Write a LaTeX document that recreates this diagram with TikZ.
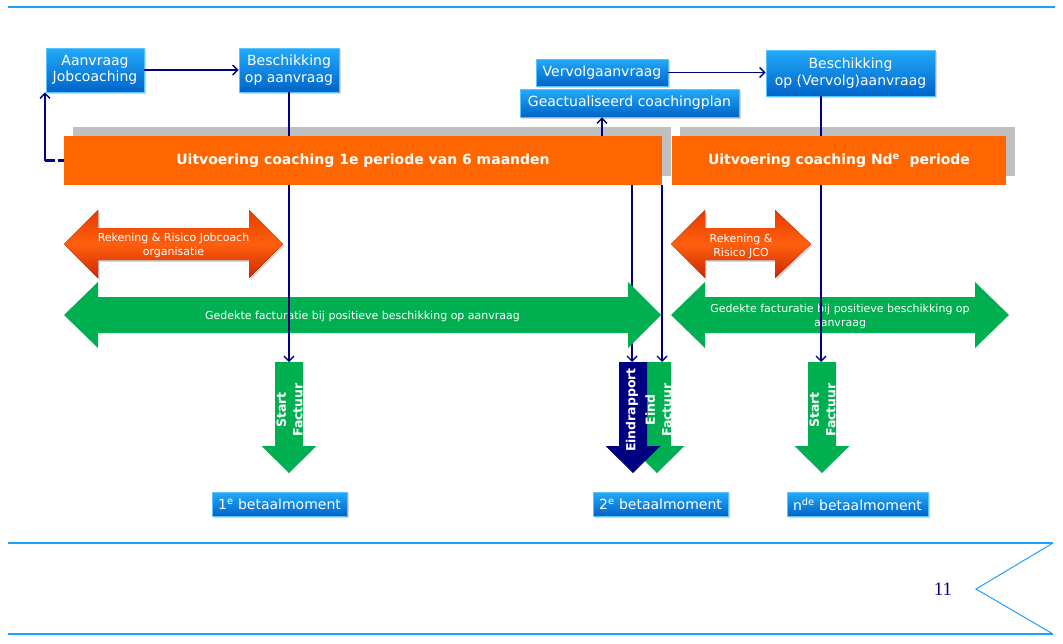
\documentclass[tikz,border=0pt]{standalone}
\usepackage{fontspec}
\setmainfont{DejaVu Sans}
\newfontfamily\numfont{Liberation Serif}
\usetikzlibrary{arrows.meta,shadows,calc}
\definecolor{navy}{RGB}{0,0,128}
\definecolor{lineblue}{RGB}{30,160,255}
\definecolor{orng}{RGB}{255,102,0}
\definecolor{greyshadow}{RGB}{191,191,191}
\definecolor{grn}{RGB}{0,176,80}
\definecolor{btop}{RGB}{35,170,250}
\definecolor{bbot}{RGB}{0,100,200}
\definecolor{bedge}{RGB}{90,195,255}
\definecolor{rtop}{RGB}{230,60,0}
\definecolor{rmid}{RGB}{255,95,15}
\definecolor{rbot}{RGB}{205,40,0}
\newcommand{\dnarrow}[2]{\fill[#2] (#1-14,362) -- (#1+14,362) -- (#1+14,446) -- (#1+27.5,446) -- (#1,473) -- (#1-27.5,446) -- (#1-14,446) -- cycle;}
\begin{document}
\begin{tikzpicture}[x=1pt,y=-1pt,
  bluebox/.style={draw=bedge, line width=0.8pt, top color=btop, bottom color=bbot,
    text=white, font=\fontsize{14}{16.5}\selectfont, align=center, inner sep=0pt,
    drop shadow={opacity=0.3, shadow xshift=1.5pt, shadow yshift=-1.5pt}},
  orangebox/.style={fill=orng, text=white, font=\bfseries\fontsize{14}{16}\selectfont, inner sep=0pt, minimum height=49pt},
  greybox/.style={fill=greyshadow},
  conn/.style={draw=navy, line width=1.4pt, -{Straight Barb[length=5pt,width=10pt]}},
  plainconn/.style={draw=navy, line width=1.4pt},
  loopdash/.style={draw=navy, line width=2.6pt, dash pattern=on 10pt off 2.5pt},
  redarrow/.style={top color=rtop, bottom color=rbot, middle color=rmid,
    drop shadow={opacity=0.3, shadow xshift=1.5pt, shadow yshift=-2pt}},
  redtext/.style={text=white, font=\fontsize{11}{14}\selectfont, align=center, inner sep=0pt},
  greenarrow/.style={fill=grn},
  greentext/.style={text=white, font=\fontsize{11}{14}\selectfont, align=center, inner sep=0pt},
  rottext/.style={text=white, font=\bfseries\fontsize{12.5}{16.5}\selectfont, align=center, rotate=90, inner sep=0pt},
  rule/.style={draw=lineblue, line width=2pt}
]
\useasboundingbox (0,0) rectangle (1063,643);

% frame rules
\draw[rule] (8,7) -- (1055,7);
\draw[rule] (8,543) -- (1053,543);
\draw[rule] (8,634) -- (1053,634);
\draw[draw=lineblue, line width=1pt] (1053,543) -- (976,589) -- (1053,634);
\node[text=navy, font=\numfont\fontsize{19}{19}\selectfont] (pg) at (943,589) {11};

% top request boxes
\node[bluebox, minimum width=98pt, minimum height=44pt] (a1) at (95,70) {Aanvraag\\Jobcoaching};
\node[bluebox, minimum width=100pt, minimum height=44pt] (b1) at (289,70) {Beschikking\\op aanvraag};
\node[bluebox, minimum width=132pt, minimum height=27pt] (v) at (602,72.5) {Vervolgaanvraag};
\node[bluebox, minimum width=219pt, minimum height=28pt] (g) at (629.5,103) {Geactualiseerd coachingplan};
\node[bluebox, minimum width=169pt, minimum height=46pt] (b2) at (850.5,73) {Beschikking\\op (Vervolg)aanvraag};

\draw[conn] (a1.east) -- (b1.west);
\draw[conn] (v.east) -- (v.east -| b2.west);

% grey shadows of the period bars
\fill[greybox] (73,127) rectangle (671,176);
\fill[greybox] (680,127) rectangle (1015,176);

% coordinates of connector ends
\coordinate (sf1) at (289,362);
\coordinate (er) at (632,362);
\coordinate (ef) at (662,362);
\coordinate (sfn) at (821,362);
\coordinate (gc) at (602,136);
\coordinate (lc) at (45,160.5);

% upper parts of the vertical connectors (under the orange bars)
\draw[plainconn] (b1.south) -- (sf1 |- 0,140);
\draw[plainconn] (sfn |- b2.south) -- (sfn |- 0,140);

% period bars
\node[orangebox, minimum width=598pt] (o1) at (363,160.5) {Uitvoering coaching 1e periode van 6 maanden};
\node[orangebox, minimum width=334pt] (o2) at (839,160.5) {Uitvoering coaching Nd\textsuperscript{e}\ \ periode};

% loop back to Aanvraag and to coachingplan
\draw[loopdash] (lc) -- (o1.west);
\draw[conn] (lc) -- (lc |- a1.south);
\draw[conn] (gc) -- (gc |- g.south);

% Eindrapport connector (under green arrow)
\draw[conn] (er |- o1.south) -- (er);

% red double arrows
\fill[redarrow] (64,244) -- (98,210) -- (98,228) -- (249,228) -- (249,210) -- (283,244) -- (249,278) -- (249,260) -- (98,260) -- (98,278) -- cycle;
\node[redtext] (r1) at (173.5,245.5) {Rekening \& Risico Jobcoach\\organisatie};
\fill[redarrow] (671,244) -- (705,210) -- (705,228) -- (775,228) -- (775,210) -- (811,244) -- (775,278) -- (775,260) -- (705,260) -- (705,278) -- cycle;
\node[redtext] (r2) at (741,246) {Rekening \&\\Risico JCO};

% green double arrows
\fill[greenarrow] (64,315) -- (98,282) -- (98,297) -- (628,297) -- (628,282) -- (661,315) -- (628,348) -- (628,333) -- (98,333) -- (98,348) -- cycle;
\node[greentext] (gt1) at (362.5,316) {Gedekte facturatie bij positieve beschikking op aanvraag};
\fill[greenarrow] (671,315) -- (705,282) -- (705,297) -- (975,297) -- (975,282) -- (1009,315) -- (975,348) -- (975,333) -- (705,333) -- (705,348) -- cycle;
\node[greentext] (gt2) at (840,316) {Gedekte facturatie bij positieve beschikking op\\aanvraag};

% lower parts of the vertical connectors (over the green arrows)
\draw[conn] (sf1 |- o1.south) -- (sf1);
\draw[conn] (sfn |- o2.south) -- (sfn);
\draw[conn] (ef |- o1.south) -- (ef);

% down arrows
\dnarrow{289}{grn}
\dnarrow{657}{grn}
\dnarrow{633}{navy}
\dnarrow{822}{grn}
\node[rottext] (t1) at (289.5,410) {Start\\Factuur};
\node[rottext] (t2) at (632,410) {Eindrapport};
\node[rottext] (t3) at (658.5,410) {Eind\\Factuur};
\node[rottext] (t4) at (822.5,410) {Start\\Factuur};

% payment moments
\node[bluebox, minimum width=135pt, minimum height=24pt] (p1) at (279.5,504) {1\textsuperscript{e} betaalmoment};
\node[bluebox, minimum width=135pt, minimum height=24pt] (p2) at (660.5,504) {2\textsuperscript{e} betaalmoment};
\node[bluebox, minimum width=141pt, minimum height=24pt] (pn) at (857.5,504) {n\textsuperscript{de} betaalmoment};
\end{tikzpicture}
\end{document}
